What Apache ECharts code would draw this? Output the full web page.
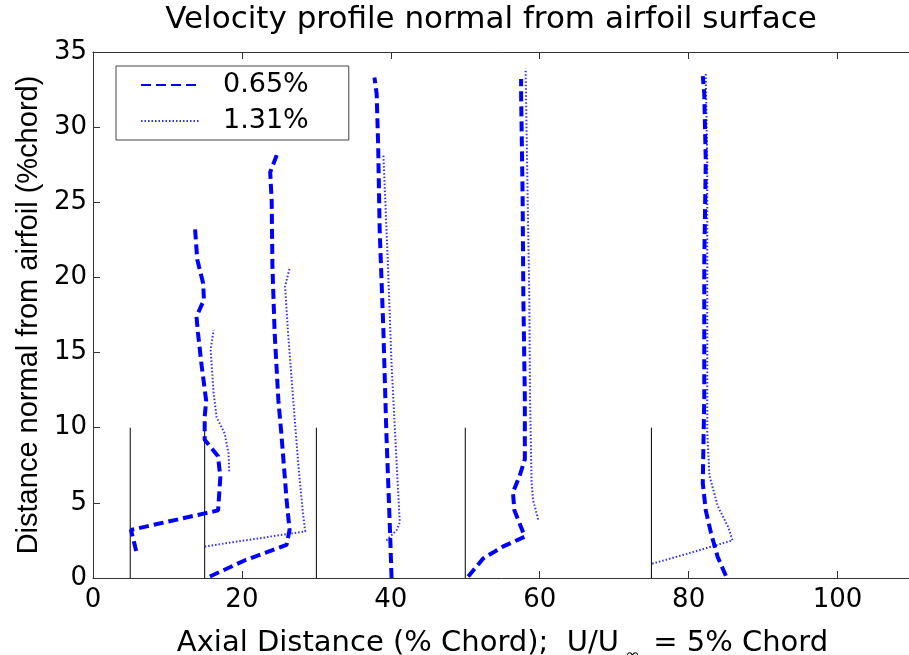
<!DOCTYPE html>
<html>
<head>
<meta charset="utf-8">
<script src="https://cdn.jsdelivr.net/npm/echarts@6/dist/echarts.min.js"></script>
<style>html,body{margin:0;padding:0;background:#fff}#c{width:909px;height:655px}</style>
</head>
<body>
<div id="c"></div>
<script>
// Axis ticks
const xTicks = [0, 20, 40, 60, 80, 100];
const yTicks = [0, 5, 10, 15, 20, 25, 30, 35];

// Measurement stations (% chord) and reference line height
const stations = [5, 15, 30, 50, 75];
const stationTop = 10;

// 0.65% profiles (x = axial position incl. velocity, y = normal distance)
const a05_x = [5.8, 5.1, 15.0, 16.8, 17.1, 16.8, 15.0, 15.0, 15.2, 14.6, 14.1, 13.9, 14.9, 14.8, 14.0, 13.7];
const a05_y = [1.8, 3.2, 4.3, 4.5, 6.7, 8.1, 9.2, 10.7, 11.8, 14.1, 16.3, 17.4, 18.5, 19.6, 21.2, 23.3];
const a15_x = [15.7, 20.5, 26.0, 26.4, 26.0, 25.3, 24.9, 24.4, 24.1, 24.0, 23.8, 24.8];
const a15_y = [0.1, 1.2, 2.2, 3.2, 5.2, 9.6, 11.8, 16.3, 20.7, 25.1, 27.0, 28.3];
const a30_x = [40.1, 39.9, 39.4, 39.0, 38.5, 38.3, 38.1, 37.8];
const a30_y = [0.0, 3.0, 9.7, 16.5, 23.2, 28.8, 32.2, 33.3];
const a50_x = [50.4, 52.4, 55.1, 58.0, 56.6, 56.4, 57.3, 58.0, 58.0, 57.8, 57.7, 57.5, 57.5];
const a50_y = [0.1, 1.3, 2.1, 2.75, 4.5, 5.7, 6.8, 7.9, 12.0, 18.7, 25.5, 32.2, 33.2];
const a75_x = [85.0, 83.9, 83.0, 82.3, 81.9, 82.1, 82.1, 82.3, 82.1, 81.9];
const a75_y = [0.15, 1.4, 3.0, 4.5, 6.3, 12.0, 21.0, 27.7, 32.2, 33.4];

// 1.31% profiles
const b05_x = [18.3, 18.2, 17.7, 16.6, 16.2, 15.8, 16.2];
const b05_y = [7.1, 8.3, 9.6, 10.7, 12.3, 15.2, 16.5];
const b15_x = [15.0, 28.5, 28.2, 27.6, 26.9, 26.2, 25.8, 26.4];
const b15_y = [2.1, 3.1, 4.3, 7.4, 11.8, 16.3, 19.4, 20.6];
const b30_x = [39.4, 40.8, 41.2, 40.8, 40.1, 39.6, 39.0];
const b30_y = [2.5, 3.2, 3.7, 7.5, 14.2, 21.0, 28.2];
const b50_x = [59.8, 59.1, 58.9, 58.7, 58.6, 58.3, 58.1];
const b50_y = [3.9, 5.2, 6.4, 12.0, 18.7, 27.7, 33.9];
const b75_x = [75.1, 79.7, 85.9, 85.3, 83.9, 82.8, 82.5, 82.5, 82.5, 82.3];
const b75_y = [0.95, 1.6, 2.5, 3.4, 4.8, 6.8, 9.7, 18.7, 27.7, 33.6];

const seriesNames = ['0.65%', '1.31%'];

const FONT = 'DejaVu Sans';
const FONT_V = 'Liberation Sans';
const pair = (xs, ys) => xs.map((x, i) => [x, ys[i]]);

const dashedStyle = { color: '#0000ff', width: 4, type: [10, 5] };
const dottedStyle = { color: '#3030ff', width: 2, type: [1.5, 2] };

const series = [];
stations.forEach(s => {
  series.push({
    name: 'station', type: 'line', data: [[s, 0], [s, stationTop]],
    symbol: 'none', silent: true, z: 1,
    lineStyle: { color: '#000', width: 1 }
  });
});
[[a05_x, a05_y], [a15_x, a15_y], [a30_x, a30_y], [a50_x, a50_y], [a75_x, a75_y]].forEach(([xs, ys]) => {
  series.push({ name: seriesNames[0], type: 'line', data: pair(xs, ys), symbol: 'none', z: 3,
    itemStyle: { color: '#0000ff' }, lineStyle: dashedStyle });
});
[[b05_x, b05_y], [b15_x, b15_y], [b30_x, b30_y], [b50_x, b50_y], [b75_x, b75_y]].forEach(([xs, ys]) => {
  series.push({ name: seriesNames[1], type: 'line', data: pair(xs, ys), symbol: 'none', z: 2,
    itemStyle: { color: '#3030ff' }, lineStyle: dottedStyle });
});

const axisLineCol = '#333';
const chart = echarts.init(document.getElementById('c'), null, { renderer: 'canvas' });
chart.setOption({
  animation: false,
  backgroundColor: '#fff',
  title: {
    text: 'Velocity profile normal from airfoil surface',
    left: 491, textAlign: 'center', top: 4, padding: 0,
    textStyle: { fontFamily: FONT, fontSize: 31, fontWeight: 'normal', color: '#000' }
  },
  legend: {
    data: seriesNames,
    orient: 'vertical',
    left: 116, top: 66,
    padding: [5, 40, 5, 24],
    itemWidth: 59, itemHeight: 14, itemGap: 8,
    itemStyle: { opacity: 0, borderWidth: 0 },
    backgroundColor: '#fff', borderColor: '#444', borderWidth: 1, borderRadius: 0,
    textStyle: { fontFamily: FONT, fontSize: 27, color: '#000', lineHeight: 28, padding: [0, 0, 0, 18] }
  },
  grid: { left: 93, top: 52, width: 819, height: 526, containLabel: false, outerBoundsMode: 'none' },
  xAxis: [{
    type: 'value', min: 0, max: 110, interval: 20, position: 'bottom',
    splitLine: { show: false },
    axisLine: { onZero: false, lineStyle: { color: axisLineCol, width: 1 } },
    axisTick: { inside: true, length: 7, lineStyle: { color: axisLineCol } },
    axisLabel: { showMaxLabel: false, margin: 9, fontFamily: FONT, fontSize: 26, color: '#000' },
    name: '{t|Axial Distance (% Chord);  U/U}{s|∞}{t| = 5% Chord}',
    nameLocation: 'middle', nameGap: 43,
    nameTextStyle: {
      fontFamily: FONT, fontSize: 29, color: '#000',
      rich: {
        t: { fontFamily: FONT, fontSize: 29, color: '#000' },
        s: { fontFamily: FONT, fontSize: 18, color: '#000', padding: [26, 4, 0, 6] }
      }
    }
  }, {
    type: 'value', min: 0, max: 110, interval: 20, position: 'top',
    splitLine: { show: false },
    axisLine: { onZero: false, lineStyle: { color: axisLineCol, width: 1 } },
    axisTick: { inside: true, length: 7, lineStyle: { color: axisLineCol } },
    axisLabel: { show: false }
  }],
  yAxis: [{
    type: 'value', min: 0, max: 35, interval: 5,
    splitLine: { show: false },
    axisLine: { onZero: false, lineStyle: { color: axisLineCol, width: 1 } },
    axisTick: { inside: true, length: 7, lineStyle: { color: axisLineCol } },
    axisLabel: { margin: 6, fontFamily: FONT, fontSize: 26, color: '#000' },
    name: 'Distance normal from airfoil (%chord)',
    nameLocation: 'middle', nameGap: 50,
    nameTextStyle: { fontFamily: FONT_V, fontSize: 29, color: '#000' }
  }],
  series: series
});
</script>
</body>
</html>
